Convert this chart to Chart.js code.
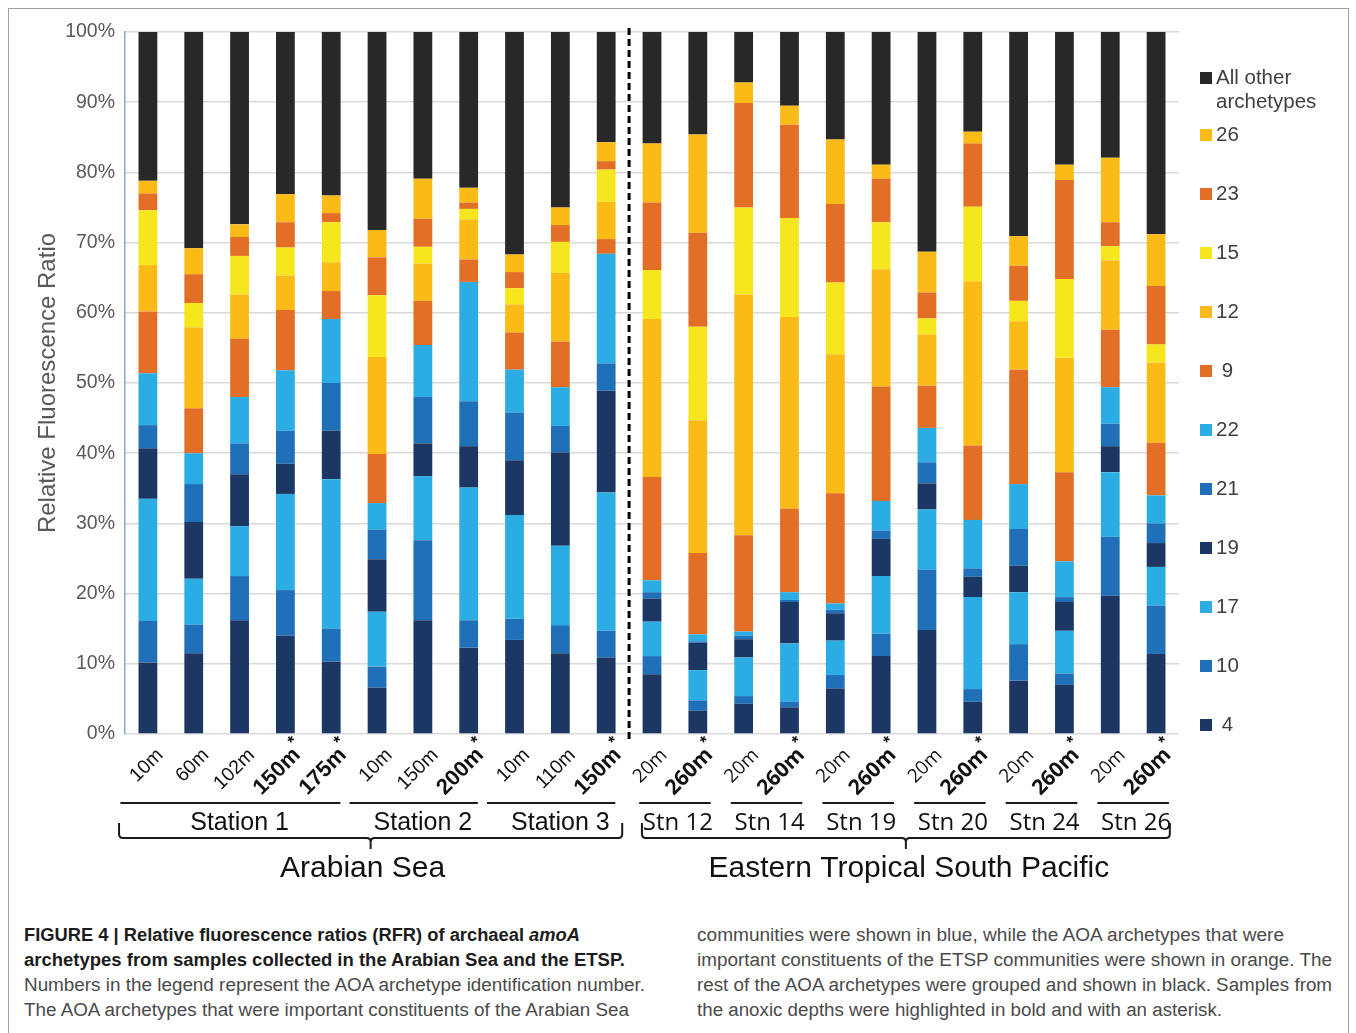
<!DOCTYPE html>
<html>
<head>
<meta charset="utf-8">
<script src="https://cdn.jsdelivr.net/npm/chart.js@4.4.1/dist/chart.umd.min.js"></script>
<style>
  html, body { margin: 0; padding: 0; background: #fff; }
  #fig { position: relative; width: 1356px; height: 1033px; overflow: hidden; background: #fff; }
  #frame { position: absolute; left: 8px; top: 8px; width: 1341px; height: 1060px; border: 1px solid #a0a0a0; box-sizing: border-box; }
  #wrap { position: absolute; left: 0; top: 0; width: 1356px; height: 900px; }
  .cap { position: absolute; white-space: nowrap; font-family: "Liberation Sans Narrow", "Liberation Sans", Arial, sans-serif;
         font-size: 18px; line-height: 20px; color: #4a4a4a; transform-origin: 0 50%; }
  .cap.b { font-weight: bold; color: #1c1c1c; }
</style>
</head>
<body>
<div id="fig">
  <div id="frame"></div>
  <div id="wrap"><canvas id="chart"></canvas></div>

  <div class="cap b" data-w="556" style="left:24px;top:925px">FIGURE 4 | Relative fluorescence ratios (RFR) of archaeal <i>amoA</i></div>
  <div class="cap b" data-w="601" style="left:24px;top:950px">archetypes from samples collected in the Arabian Sea and the ETSP.</div>
  <div class="cap" data-w="621" style="left:24px;top:975px">Numbers in the legend represent the AOA archetype identification number.</div>
  <div class="cap" data-w="605" style="left:24px;top:1000px">The AOA archetypes that were important constituents of the Arabian Sea</div>
  <div class="cap" data-w="587" style="left:697px;top:925px">communities were shown in blue, while the AOA archetypes that were</div>
  <div class="cap" data-w="635" style="left:697px;top:950px">important constituents of the ETSP communities were shown in orange. The</div>
  <div class="cap" data-w="635" style="left:697px;top:975px">rest of the AOA archetypes were grouped and shown in black. Samples from</div>
  <div class="cap" data-w="525" style="left:697px;top:1000px">the anoxic depths were highlighted in bold and with an asterisk.</div>
</div>

<script>
// Sample depths (x categories) and whether each depth is anoxic (bold + asterisk)
const depths = ['10m','60m','102m','150m','175m','10m','150m','200m','10m','110m','150m',
                '20m','260m','20m','260m','20m','260m','20m','260m','20m','260m','20m','260m'];
const anoxic = [false,false,false,true,true,false,false,true,false,false,true,
                false,true,false,true,false,true,false,true,false,true,false,true];

// Station groups (index ranges into depths) and ocean regions
const stations = [
  { name: 'Station 1', first: 0,  last: 4 },
  { name: 'Station 2', first: 5,  last: 7 },
  { name: 'Station 3', first: 8,  last: 10 },
  { name: 'Stn 12',    first: 11, last: 12 },
  { name: 'Stn 14',    first: 13, last: 14 },
  { name: 'Stn 19',    first: 15, last: 16 },
  { name: 'Stn 20',    first: 17, last: 18 },
  { name: 'Stn 24',    first: 19, last: 20 },
  { name: 'Stn 26',    first: 21, last: 22 }
];
const regions = [
  { name: 'Arabian Sea', first: 0, last: 10 },
  { name: 'Eastern Tropical South Pacific', first: 11, last: 22 }
];

// Relative fluorescence ratio (%) of each AOA archetype, stacked bottom to top
const arch4  = [10.2,11.5,16.2,14.0,10.3,6.6,16.2,12.3,13.4,11.5,10.9,8.5,3.3,4.3,3.8,6.5,11.1,14.8,4.6,7.6,7.0,19.7,11.4];
const arch10 = [5.9,4.1,6.3,6.5,4.7,3.0,11.4,3.9,3.0,4.0,3.8,2.6,1.5,1.1,0.8,1.9,3.2,8.6,1.8,5.2,1.6,8.4,6.9];
const arch17 = [17.4,6.5,7.1,13.7,21.3,7.8,9.1,18.9,14.8,11.3,19.7,4.9,4.3,5.5,8.3,4.9,8.2,8.6,13.1,7.4,6.1,9.2,5.5];
const arch19 = [7.2,8.1,7.4,4.3,6.9,7.5,4.7,5.9,7.8,13.3,14.5,3.3,3.9,2.6,5.9,3.9,5.3,3.7,2.9,3.8,4.1,3.7,3.4];
const arch21 = [3.3,5.4,4.4,4.7,6.8,4.2,6.6,6.4,6.8,3.8,3.9,0.9,0.2,0.5,0.3,0.5,1.2,3.0,1.2,5.2,0.7,3.2,2.8];
const arch22 = [7.4,4.4,6.6,8.6,9.1,3.8,7.4,17.0,6.1,5.5,15.6,1.7,1.0,0.6,1.1,0.9,4.2,4.9,6.9,6.4,5.1,5.2,4.0];
const arch9  = [8.8,6.4,8.3,8.6,4.0,7.0,6.3,3.2,5.3,6.5,2.1,14.7,11.6,13.7,11.9,15.7,16.3,6.0,10.6,16.3,12.7,8.2,7.5];
const arch12 = [6.6,11.5,6.3,4.9,4.1,13.8,5.3,5.7,4.0,9.8,5.3,22.5,18.9,34.3,27.3,19.8,16.7,7.3,23.4,6.9,16.3,9.9,11.4];
const arch15 = [7.8,3.5,5.5,4.0,5.7,8.8,2.4,1.5,2.3,4.4,4.6,7.0,13.3,12.4,14.1,10.2,6.7,2.3,10.6,2.9,11.2,2.0,2.6];
const arch23 = [2.4,4.1,2.7,3.6,1.3,5.4,4.0,0.9,2.3,2.4,1.2,9.6,13.4,14.9,13.3,11.2,6.2,3.7,9.0,5.0,14.1,3.4,8.3];
const arch26 = [1.8,3.7,1.8,4.0,2.5,3.9,5.7,2.1,2.5,2.5,2.7,8.4,14.0,2.9,2.7,9.2,2.0,5.8,1.7,4.2,2.2,9.2,7.4];
const archOther = [21.2,30.8,27.4,23.1,23.3,28.2,20.9,22.2,31.7,25.0,15.7,15.9,14.6,7.2,10.5,15.3,18.9,31.3,14.2,29.1,18.9,17.9,28.8];

const NAVY = '#1c3763', MID = '#1f70b8', LIGHT = '#2bade4',
      ORANGE = '#e36f26', GOLD = '#fbbb16', YELLOW = '#f5e61e', BLACK = '#282828';

const series = [
  { label: ' 4',  data: arch4,  color: NAVY },
  { label: '10',  data: arch10, color: MID },
  { label: '17',  data: arch17, color: LIGHT },
  { label: '19',  data: arch19, color: NAVY },
  { label: '21',  data: arch21, color: MID },
  { label: '22',  data: arch22, color: LIGHT },
  { label: ' 9',  data: arch9,  color: ORANGE },
  { label: '12',  data: arch12, color: GOLD },
  { label: '15',  data: arch15, color: YELLOW },
  { label: '23',  data: arch23, color: ORANGE },
  { label: '26',  data: arch26, color: GOLD },
  { label: ['All other', 'archetypes'], data: archOther, color: BLACK }
];

const AXIS_GREY = '#595959';

// Divider between the two ocean regions
const dividerPlugin = {
  id: 'divider',
  afterDatasetsDraw(chart) {
    const xs = chart.scales.x, ca = chart.chartArea, ctx = chart.ctx;
    const x = (xs.getPixelForValue(regions[0].last) + xs.getPixelForValue(regions[1].first)) / 2;
    ctx.save();
    ctx.strokeStyle = '#000';
    ctx.lineWidth = 3;
    ctx.setLineDash([7, 4]);
    ctx.beginPath();
    ctx.moveTo(x, ca.top - 4);
    ctx.lineTo(x, ca.bottom + 7);
    ctx.stroke();
    ctx.restore();
  }
};

// Rotated depth labels, station underlines and region braces
const categoryPlugin = {
  id: 'categoryLabels',
  afterDraw(chart) {
    const xs = chart.scales.x, ctx = chart.ctx, ca = chart.chartArea;
    const w = xs.getPixelForValue(1) - xs.getPixelForValue(0);
    ctx.save();
    ctx.fillStyle = '#111';
    // depth labels
    depths.forEach((d, i) => {
      const etsp = i >= regions[1].first;
      const x = xs.getPixelForValue(i) + 16;
      const y = ca.bottom + 22;
      ctx.save();
      ctx.translate(x, y);
      ctx.rotate(-Math.PI / 4);
      ctx.textAlign = 'right';
      ctx.textBaseline = 'alphabetic';
      if (anoxic[i]) {
        ctx.font = etsp ? 'bold 21px "Open Sans"' : 'bold 22px "Liberation Sans"';
      } else {
        ctx.font = etsp ? '19px "Open Sans"' : '19.5px "Liberation Sans"';
      }
      ctx.fillText(d, 0, 0);
      if (anoxic[i]) {
        ctx.font = 'bold 17px "Liberation Sans"';
        ctx.textAlign = 'left';
        ctx.fillText('*', 1, -11);
      }
      ctx.restore();
    });

    // station underlines and names
    ctx.strokeStyle = '#1a1a1a';
    ctx.lineWidth = 2;
    stations.forEach(s => {
      const etsp = s.first >= regions[1].first;
      const x0 = xs.getPixelForValue(s.first), x1 = xs.getPixelForValue(s.last);
      const mid = (x0 + x1) / 2;
      const l = etsp ? mid - 0.78 * w : x0 - 0.6 * w;
      const r = etsp ? mid + 0.78 * w : x1 + 0.2 * w;
      ctx.beginPath();
      ctx.moveTo(l, ca.bottom + 69);
      ctx.lineTo(r, ca.bottom + 69);
      ctx.stroke();
      ctx.font = etsp ? '24px "Open Sans"' : '25px "Liberation Sans"';
      ctx.textAlign = 'center';
      ctx.textBaseline = 'alphabetic';
      ctx.fillText(s.name, mid + (etsp ? 3 : 0), ca.bottom + 96);
    });

    // region braces and names
    const inset = [[0.63, 0.35], [0.22, 0.30]];
    regions.forEach((g, k) => {
      const l = xs.getPixelForValue(g.first) - inset[k][0] * w;
      const r = xs.getPixelForValue(g.last) + inset[k][1] * w;
      const m = (l + r) / 2;
      const yTop = ca.bottom + 89, yH = ca.bottom + 104, yTip = ca.bottom + 115;
      ctx.beginPath();
      ctx.moveTo(l, yTop);
      ctx.lineTo(l, yH - 4);
      ctx.quadraticCurveTo(l, yH, l + 4, yH);
      ctx.lineTo(m - 4, yH);
      ctx.quadraticCurveTo(m, yH, m, yH + 4);
      ctx.lineTo(m, yTip);
      ctx.moveTo(m, yH + 4);
      ctx.quadraticCurveTo(m, yH, m + 4, yH);
      ctx.lineTo(r - 4, yH);
      ctx.quadraticCurveTo(r, yH, r, yH - 4);
      ctx.lineTo(r, yTop);
      ctx.stroke();
      ctx.font = '30px "Liberation Sans"';
      ctx.textAlign = 'center';
      ctx.fillText(g.name, m - (k === 0 ? 8 : -3), ca.bottom + 143);
    });
    ctx.restore();
  }
};

// Legend on the right, top entry = top of the stack
const legendPlugin = {
  id: 'sideLegend',
  afterDraw(chart) {
    const ctx = chart.ctx, ca = chart.chartArea;
    const x = ca.right + 21, step = 59;
    const entries = chart.data.datasets.slice().reverse();
    ctx.save();
    ctx.font = '20.5px "Liberation Sans"';
    ctx.textBaseline = 'middle';
    ctx.textAlign = 'left';
    entries.forEach((ds, k) => {
      const y = ca.bottom - 9 - (entries.length - 1 - k) * step;
      const yy = k === 0 ? y + 2 : y;
      ctx.fillStyle = ds.backgroundColor;
      ctx.fillRect(x, yy - 6, 12, 12);
      ctx.fillStyle = '#404040';
      const lines = Array.isArray(ds.label) ? ds.label : [ds.label];
      lines.forEach((t, j) => ctx.fillText(t, x + 16, yy + j * 24));
    });
    ctx.restore();
  }
};

new Chart(document.getElementById('chart'), {
  type: 'bar',
  data: {
    labels: depths,
    datasets: series.map(s => ({
      label: s.label,
      data: s.data,
      backgroundColor: s.color,
      borderWidth: 0,
      barPercentage: 0.41,
      categoryPercentage: 1.0
    }))
  },
  options: {
    responsive: true,
    maintainAspectRatio: false,
    animation: false,
    devicePixelRatio: 1,
    layout: { padding: { top: 32, right: 177, bottom: 166, left: 0 } },
    plugins: { legend: { display: false }, tooltip: { enabled: false } },
    scales: {
      x: { stacked: true, display: false },
      y: {
        stacked: true,
        min: 0, max: 100,
        afterFit(scale) { scale.width = 125; },
        ticks: {
          stepSize: 10,
          padding: 10,
          color: AXIS_GREY,
          font: { family: '"Liberation Sans"', size: 19.5 },
          callback: v => v + '%'
        },
        grid: { color: '#d9d9d9', lineWidth: 1.5, drawTicks: false },
        border: { display: true, color: '#86a6d6', width: 1.5 },
        title: {
          display: true,
          text: 'Relative Fluorescence Ratio',
          color: AXIS_GREY,
          font: { family: '"Liberation Sans"', size: 24 },
          padding: { top: 34 }
        }
      }
    }
  },
  plugins: [dividerPlugin, categoryPlugin, legendPlugin]
});

// Fit each caption line to its column width
function fitCaption() {
  document.querySelectorAll('.cap').forEach(el => {
    el.style.transform = 'none';
    const natural = el.getBoundingClientRect().width;
    el.style.transform = 'scaleX(' + (+el.dataset.w / natural) + ')';
  });
}
fitCaption();
if (document.fonts && document.fonts.ready) document.fonts.ready.then(fitCaption);
</script>
</body>
</html>
